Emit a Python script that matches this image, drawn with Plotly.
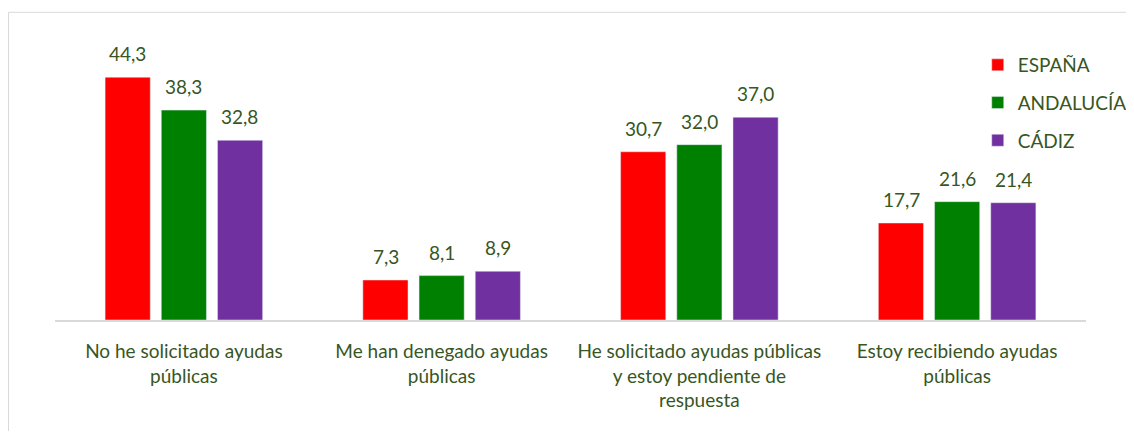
import plotly.graph_objects as go

categorias = [
    "No he solicitado ayudas<br>públicas",
    "Me han denegado ayudas<br>públicas",
    "He solicitado ayudas públicas<br>y estoy pendiente de<br>respuesta",
    "Estoy recibiendo ayudas<br>públicas",
]
espana = [44.3, 7.3, 30.7, 17.7]
andalucia = [38.3, 8.1, 32.0, 21.6]
cadiz = [32.8, 8.9, 37.0, 21.4]

series = [("ESPAÑA", espana, "#ff0000"),
          ("ANDALUCÍA", andalucia, "#008000"),
          ("CÁDIZ", cadiz, "#7030a0")]

txt = "#375623"
fuente = "Lato, Noto Sans, sans-serif"

fig = go.Figure()
anots = []
for i, (nombre, vals, color) in enumerate(series):
    fig.add_trace(go.Bar(x=categorias, y=vals, name=nombre, marker_color=color,
                         legendgroup=nombre))
    for c, v in zip(categorias, vals):
        anots.append(dict(x=c, y=v, text=f"{v:.1f}".replace(".", ","),
                          showarrow=False, yanchor="bottom", xshift=(i - 1) * 56,
                          yshift=10, font=dict(size=19, color=txt, family=fuente)))

fig.update_layout(
    width=1118, height=423,
    margin=dict(l=47, r=40, t=38, b=111, autoexpand=False),
    paper_bgcolor="white", plot_bgcolor="white",
    barmode="group", bargap=0.346, bargroupgap=0.196,
    font=dict(family=fuente, size=19, color=txt),
    annotations=anots,
    legend=dict(x=0.895, y=1.0, xanchor="left", yanchor="top",
                tracegroupgap=10, font=dict(size=19, color=txt)),
    shapes=[dict(type="rect", xref="paper", yref="paper",
                 x0=-0.0451, x1=1.06, y0=-0.46, y1=1.123,
                 line=dict(color="#d9d9d9", width=1))],
)
fig.update_xaxes(showline=True, linecolor="#d9d9d9", linewidth=2, ticks="",
                 tickfont=dict(size=19, color=txt), ticklabelstandoff=13)
fig.update_yaxes(range=[0, 50], visible=False, showgrid=False)

fig.write_html("out.html")
